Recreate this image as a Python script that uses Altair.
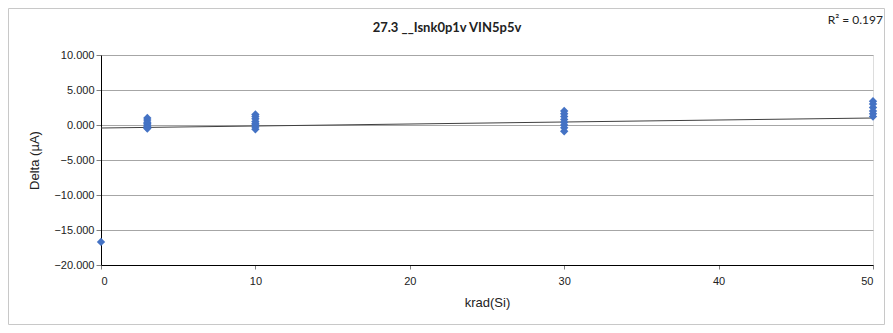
import altair as alt
import pandas as pd

# data
krad_levels = [0, 3, 10, 30, 50]
delta_0 = [-16.7]
delta_3 = [1.0, 0.7, 0.4, 0.2, 0.0, -0.2, -0.4, -0.5]
delta_10 = [1.5, 1.2, 0.9, 0.5, 0.2, 0.0, -0.3, -0.6]
delta_30 = [2.0, 1.6, 1.2, 0.8, 0.4, 0.0, -0.4, -0.9]
delta_50 = [3.4, 3.0, 2.5, 2.0, 1.6, 1.2]
trend_x = [0, 50]
trend_y = [-0.43, 1.0]
title_text = "27.3 __Isnk0p1v VIN5p5v"
r2_text = "R² = 0.197"
y_ticks = [-20, -15, -10, -5, 0, 5, 10]
x_ticks = [0, 10, 20, 30, 40, 50]

rows = []
for k, vals in zip(krad_levels, [delta_0, delta_3, delta_10, delta_30, delta_50]):
    for v in vals:
        rows.append({"krad": k, "delta": v})
pts = pd.DataFrame(rows)
trend = pd.DataFrame({"krad": trend_x, "delta": trend_y})

FONT = "Lato"
W, H = 772, 210
PL, PT, PR, PB = 93, 47, 12, 60

xs = alt.X("krad:Q", scale=alt.Scale(domain=[0, 50], nice=False),
           axis=alt.Axis(values=x_ticks, title="krad(Si)", grid=False, titleFontWeight="normal",
                         titleFontSize=13, labelFontSize=11, titlePadding=10, tickSize=4,
                         domainColor="#000000", tickColor="#808080", labelColor="#222222",
                         titleColor="#222222", labelPadding=6, labelOverlap=False))
ys = alt.Y("delta:Q", scale=alt.Scale(domain=[-20, 10], nice=False),
           axis=alt.Axis(values=y_ticks, format=".3f", title="Delta (µA)", grid=True,
                         gridColor="#A6A6A6", titleFontWeight="normal", titleFontSize=13,
                         labelFontSize=11, titlePadding=12, tickSize=5, domainColor="#000000",
                         tickColor="#808080", labelColor="#222222", titleColor="#222222",
                         labelOverlap=False))

points = alt.Chart(pts).mark_point(shape="M-1,0L0,-1L1,0L0,1Z", filled=True, size=70,
                                   color="#4472C4", opacity=1).encode(x=xs, y=ys)
line = alt.Chart(trend).mark_line(color="#404040", strokeWidth=1).encode(x=xs, y=ys)

border = alt.Chart(pd.DataFrame({"a": [0]})).mark_rect(
    fill=None, stroke="#C8C8C8", strokeWidth=1).encode(
    x=alt.value(-PL + 0.5), x2=alt.value(W + PR - 0.5),
    y=alt.value(-PT + 0.5), y2=alt.value(H + PB - 0.5))

title = alt.Chart(pd.DataFrame({"t": [title_text]})).mark_text(
    font=FONT, fontSize=13, fontWeight="bold", color="#222222", align="center", baseline="middle"
).encode(text="t:N", x=alt.value(346), y=alt.value(-27))

r2 = alt.Chart(pd.DataFrame({"t": [r2_text]})).mark_text(
    font=FONT, fontSize=12, color="#222222", align="right", baseline="middle"
).encode(text="t:N", x=alt.value(W + PR - 2), y=alt.value(-35))

chart = alt.layer(border, line, points, title, r2).properties(
    width=W, height=H,
    autosize=alt.AutoSizeParams(type="none"),
    padding={"left": PL, "top": PT, "right": PR, "bottom": PB},
).configure_view(fill="#E6ECEC", stroke="#000000", strokeWidth=1).configure_axis(
    labelFont=FONT, titleFont=FONT
).configure(background="white")

chart.save("out.html", embed_options={"renderer": "svg", "actions": False})
